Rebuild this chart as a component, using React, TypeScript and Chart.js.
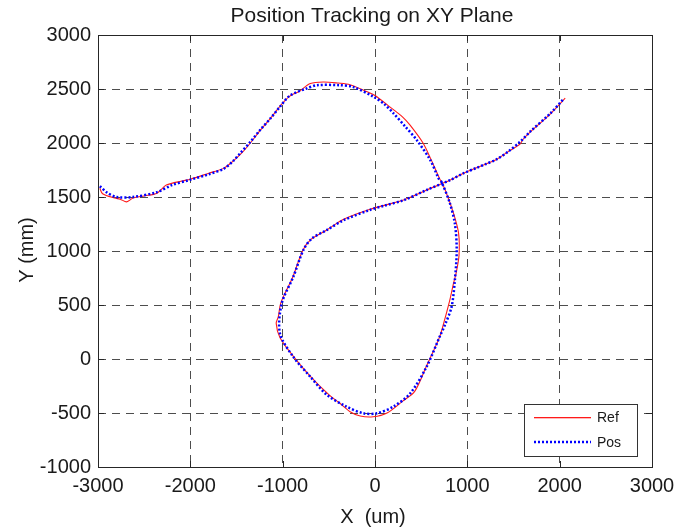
import React, { useEffect, useRef } from "react";
import { Chart, registerables } from "chart.js";

Chart.register(...registerables);

const chartTitle = "Position Tracking on XY Plane";
const xLabel = "X  (um)";
const yLabel = "Y (mm)";
const xTicks = [-3000, -2000, -1000, 0, 1000, 2000, 3000];
const yTicks = [-1000, -500, 0, 500, 1000, 1500, 2000, 2500, 3000];
const legendLabels = ["Ref", "Pos"];

const refX = [
  -2980, -2950, -2820, -2760, -2690, -2620, -2500, -2360, -2260, -2080, -2000, -1800, -1640, -1540,
  -1440, -1350, -1250, -1130, -1030, -930, -820, -700, -560, -400, -270, -100, 0, 160, 300, 380,
  520, 600, 700, 760, 850, 905, 910, 880, 850, 810, 750, 700, 560, 430, 300, 130, -20, -160, -270,
  -380, -500, -700, -880, -1030, -1070, -1047, -1020, -890, -780, -690, -530, -350, -60, 300, 560,
  810, 960, 1100, 1200, 1320, 1450, 1570, 1600, 1680, 1900, 2060,
];
const refY = [
  1580, 1530, 1490, 1480, 1455, 1490, 1510, 1535, 1610, 1650, 1665, 1720, 1765, 1830,
  1910, 2000, 2110, 2230, 2340, 2430, 2480, 2550, 2565, 2555, 2540, 2480, 2440, 2335, 2240, 2165,
  2000, 1860, 1670, 1565, 1350, 1165, 960, 800, 700, 545, 350, 205, -60, -300, -390, -500, -535, -528, -488,
  -410, -330, -160, 20, 200, 330, 392, 520, 760, 1010, 1110, 1190, 1290, 1385, 1470, 1565,
  1655, 1720, 1770, 1805, 1850, 1925, 1990, 2030, 2100, 2270, 2415,
];

const posX = [
  -2980, -2900, -2800, -2620, -2360, -2200, -2000, -1800, -1640, -1540, -1460, -1350, -1245, -1130,
  -1030, -920, -740, -630, -380, -240, -20, 100, 200, 330, 450, 600, 690, 720, 810, 865, 885, 865,
  830, 760, 700, 560, 380, 200, 20, -125, -310, -520, -700, -885, -1030, -1010, -885, -775, -685,
  -520, -340, -55, 100, 310, 560, 810, 960, 1100, 1200, 1320, 1450, 1570, 1680, 1900, 2040,
];
const posY = [
  1600, 1540, 1500, 1500, 1545, 1610, 1660, 1710, 1760, 1830, 1905, 2010, 2120, 2230,
  2335, 2440, 2505, 2535, 2535, 2520, 2430, 2360, 2275, 2150, 2030, 1840, 1670, 1640, 1445, 1255, 1010, 730,
  485, 320, 205, -70, -320, -440, -503, -503, -440, -333, -165, 20, 238, 515, 760, 1010, 1115,
  1195, 1285, 1380, 1420, 1470, 1565, 1655, 1720, 1770, 1805, 1850, 1925, 2010, 2105, 2275, 2405,
];

const FONT = '"Liberation Sans", Arial, sans-serif';
const REF_COLOR = "#ff1a1a";
const POS_COLOR = "#0000ff";

const decorPlugin = {
  id: "decor",
  afterDatasetsDraw(chart: any) {
    const { ctx, chartArea } = chart;
    const { left, right, top, bottom } = chartArea;
    const xs = chart.scales.x;
    const ys = chart.scales.y;
    ctx.save();
    ctx.setLineDash([]);
    ctx.strokeStyle = "#262626";
    ctx.lineWidth = 1;
    ctx.beginPath();
    const tl = 6;
    xTicks.forEach((v) => {
      const px = Math.round(xs.getPixelForValue(v)) + 0.5;
      ctx.moveTo(px, bottom);
      ctx.lineTo(px, bottom - tl);
      ctx.moveTo(px, top);
      ctx.lineTo(px, top + tl);
    });
    yTicks.forEach((v) => {
      const py = Math.round(ys.getPixelForValue(v)) + 0.5;
      ctx.moveTo(left, py);
      ctx.lineTo(left + tl, py);
      ctx.moveTo(right, py);
      ctx.lineTo(right - tl, py);
    });
    ctx.stroke();
    ctx.strokeRect(Math.round(left) + 0.5, Math.round(top) + 0.5, Math.round(right - left), Math.round(bottom - top));
    ctx.restore();
  },
  afterDraw(chart: any) {
    const { ctx } = chart;
    ctx.save();
    ctx.setLineDash([]);
    ctx.fillStyle = "#1a1a1a";
    ctx.font = `21px ${FONT}`;
    ctx.textAlign = "center";
    ctx.textBaseline = "alphabetic";
    ctx.fillText(chartTitle, 372, 22);
    ctx.font = `20px ${FONT}`;
    ctx.fillText(xLabel, 373, 523);
    ctx.save();
    ctx.translate(33, 250);
    ctx.rotate(-Math.PI / 2);
    ctx.fillText(yLabel, 0, 0);
    ctx.restore();

    // legend
    const lx = 524.5, ly = 404.5, lw = 113, lh = 52;
    ctx.fillStyle = "#ffffff";
    ctx.fillRect(lx, ly, lw, lh);
    ctx.strokeStyle = "#333333";
    ctx.lineWidth = 1;
    ctx.strokeRect(lx, ly, lw, lh);
    ctx.fillStyle = REF_COLOR;
    ctx.fillRect(534, 417, 57, 1.3);
    ctx.strokeStyle = POS_COLOR;
    ctx.lineWidth = 2.5;
    ctx.setLineDash([2, 2]);
    ctx.beginPath();
    ctx.moveTo(534, 442);
    ctx.lineTo(591, 442);
    ctx.stroke();
    ctx.setLineDash([]);
    ctx.fillStyle = "#1a1a1a";
    ctx.font = `14px ${FONT}`;
    ctx.textAlign = "left";
    ctx.textBaseline = "middle";
    ctx.fillText(legendLabels[0], 597, 418);
    ctx.fillText(legendLabels[1], 597, 443);
    ctx.restore();
  },
};

export default function App() {
  const ref = useRef<HTMLCanvasElement | null>(null);
  useEffect(() => {
    if (!ref.current) return;
    const refData = refX.map((x, i) => ({ x, y: refY[i] }));
    const posData = posX.map((x, i) => ({ x, y: posY[i] }));
    const chart = new Chart(ref.current, {
      type: "scatter",
      data: {
        datasets: [
          {
            label: legendLabels[1],
            data: posData,
            showLine: true,
            borderColor: POS_COLOR,
            backgroundColor: POS_COLOR,
            borderWidth: 2.5,
            borderDash: [2, 2],
            pointRadius: 0,
            tension: 0.3,
            order: 0,
          },
          {
            label: legendLabels[0],
            data: refData,
            showLine: true,
            borderColor: REF_COLOR,
            backgroundColor: REF_COLOR,
            borderWidth: 1.1,
            pointRadius: 0,
            tension: 0.3,
            order: 1,
          },
        ],
      },
      options: {
        responsive: false,
        animation: false,
        layout: { padding: { top: 35, right: 36, left: 0, bottom: 0 } },
        plugins: {
          legend: { display: false },
          title: { display: false },
          tooltip: { enabled: false },
        },
        scales: {
          x: {
            type: "linear",
            min: -3000,
            max: 3000,
            afterBuildTicks: (scale: any) => {
              scale.ticks = xTicks.map((v) => ({ value: v }));
            },
            afterFit: (scale: any) => {
              scale.height = 64;
            },
            ticks: {
              font: { family: FONT, size: 20 },
              color: "#1a1a1a",
              padding: 7,
              maxRotation: 0,
              autoSkip: false,
              callback: (v: any) => String(v),
            },
            grid: { color: "#4d4d4d", lineWidth: 1, drawTicks: false },
            border: { display: false, dash: [8, 6] },
          },
          y: {
            type: "linear",
            min: -1000,
            max: 3000,
            afterBuildTicks: (scale: any) => {
              scale.ticks = yTicks.map((v) => ({ value: v }));
            },
            afterFit: (scale: any) => {
              scale.width = 98;
            },
            ticks: {
              font: { family: FONT, size: 20 },
              color: "#1a1a1a",
              padding: 7,
              autoSkip: false,
              callback: (v: any) => String(v),
            },
            grid: { color: "#4d4d4d", lineWidth: 1, drawTicks: false },
            border: { display: false, dash: [8, 6] },
          },
        },
      },
      plugins: [decorPlugin],
    });
    return () => chart.destroy();
  }, []);
  return (
    <div style={{ position: "fixed", left: 0, top: 0, width: 688, height: 531, background: "#fff" }}>
      <canvas ref={ref} width={688} height={531} style={{ display: "block" }} />
    </div>
  );
}
